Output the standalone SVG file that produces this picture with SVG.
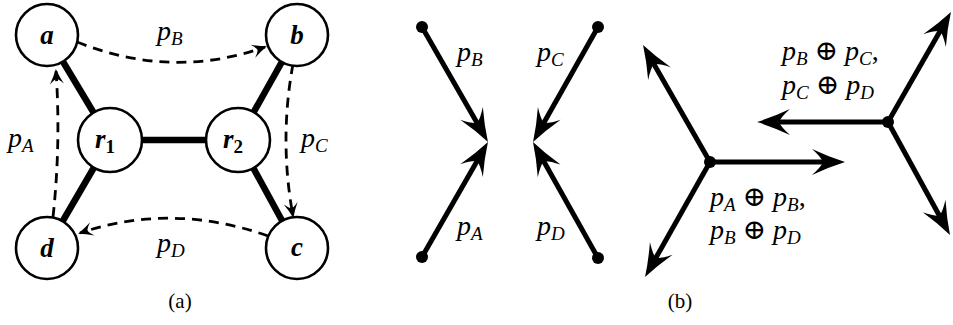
<svg xmlns="http://www.w3.org/2000/svg" width="953" height="325" viewBox="0 0 953 325">
<style>
.bg{fill:#fff}
.node{fill:#fff;stroke:#000;stroke-width:2.6}
.edge{stroke:#000;stroke-width:6.5;stroke-linecap:butt;fill:none}
.dash{stroke:#000;stroke-width:2.8;fill:none;stroke-dasharray:10 7}
.thick{stroke:#000;stroke-width:5;fill:none}
.dot{fill:#000}
.nl{font-family:"Liberation Serif","DejaVu Serif",serif;font-style:italic;font-weight:bold;font-size:27px;fill:#000}
.ml{font-family:"Liberation Serif","DejaVu Serif",serif;font-style:italic;font-size:28px;fill:#000}
.op{font-style:normal}
.cap{font-family:"Liberation Serif","DejaVu Serif",serif;font-size:21px;fill:#000}
</style>
<defs>
<marker id="big" markerUnits="userSpaceOnUse" viewBox="-20 -16 40 32" markerWidth="40" markerHeight="32" refX="0" refY="0" orient="auto" overflow="visible">
<path d="M16,0 Q0,-5 -17,-13 Q-8,-5 -6,0 Q-8,5 -17,13 Q0,5 16,0 Z" fill="#000"/>
</marker>
<marker id="small" markerUnits="userSpaceOnUse" viewBox="-16 -8 20 16" markerWidth="20" markerHeight="16" refX="0" refY="0" orient="auto" overflow="visible">
<path d="M2,0 Q-6,-3 -13,-7 Q-8,-2 -8,0 Q-8,2 -13,7 Q-6,3 2,0 Z" fill="#000"/>
</marker>
</defs>
<rect class="bg" x="0" y="0" width="953" height="325"/>

<g id="panel-a">
<g id="connectors-a">
<line class="edge" x1="47" y1="35" x2="110" y2="140"/>
<line class="edge" x1="110" y1="140" x2="47" y2="248"/>
<line class="edge" x1="110" y1="140" x2="238" y2="140"/>
<line class="edge" x1="238" y1="140" x2="297" y2="35"/>
<line class="edge" x1="238" y1="140" x2="297" y2="248"/>
<path class="dash" d="M77,42 Q172,80 265,47" marker-end="url(#small)"/>
<path class="dash" d="M293,64 Q279,140 293,216" marker-end="url(#small)"/>
<path class="dash" d="M268,236 Q172,202 80,233" marker-end="url(#small)"/>
<path class="dash" d="M53,217 Q61,143 56,71" marker-end="url(#small)"/>
</g>
<g id="node-a"><circle class="node" cx="47" cy="35" r="31"/><text class="nl" x="47" y="44" text-anchor="middle">a</text></g>
<g id="node-b"><circle class="node" cx="297" cy="35" r="31"/><text class="nl" x="297" y="44" text-anchor="middle">b</text></g>
<g id="node-c"><circle class="node" cx="297" cy="248" r="31"/><text class="nl" x="297" y="256" text-anchor="middle">c</text></g>
<g id="node-d"><circle class="node" cx="47" cy="248" r="31"/><text class="nl" x="47" y="257" text-anchor="middle">d</text></g>
<g id="node-r1"><circle class="node" cx="110" cy="140" r="32"/><text class="nl" x="95" y="148">r<tspan font-style="normal" font-size="19" dy="5">1</tspan></text></g>
<g id="node-r2"><circle class="node" cx="238" cy="140" r="32"/><text class="nl" x="223" y="148">r<tspan font-style="normal" font-size="19" dy="5">2</tspan></text></g>
<text class="ml" x="157" y="40">p<tspan font-size="19" dy="5">B</tspan></text>
<text class="ml" x="301" y="147">p<tspan font-size="19" dy="5">C</tspan></text>
<text class="ml" x="8" y="147">p<tspan font-size="19" dy="5">A</tspan></text>
<text class="ml" x="157" y="252">p<tspan font-size="19" dy="5">D</tspan></text>
<text class="cap" x="180" y="308" text-anchor="middle">(a)</text>
</g>

<g id="panel-b">
<g id="connectors-b">
<line class="thick" x1="422" y1="27" x2="480" y2="128.1" marker-end="url(#big)"/>
<line class="thick" x1="422" y1="257" x2="480" y2="155.9" marker-end="url(#big)"/>
<line class="thick" x1="598" y1="27" x2="540.9" y2="128.1" marker-end="url(#big)"/>
<line class="thick" x1="598" y1="258" x2="540.8" y2="156" marker-end="url(#big)"/>
<line class="thick" x1="710" y1="162" x2="651" y2="58.9" marker-end="url(#big)"/>
<line class="thick" x1="710" y1="162" x2="652.9" y2="263.1" marker-end="url(#big)"/>
<line class="thick" x1="710" y1="162" x2="829" y2="162" marker-end="url(#big)"/>
<line class="thick" x1="888" y1="122" x2="773" y2="122" marker-end="url(#big)"/>
<line class="thick" x1="888" y1="122" x2="943" y2="25.9" marker-end="url(#big)"/>
<line class="thick" x1="888" y1="122" x2="942.3" y2="221" marker-end="url(#big)"/>
</g>
<g id="dot-1"><circle class="dot" cx="422" cy="27" r="6"/></g>
<g id="dot-2"><circle class="dot" cx="422" cy="257" r="6"/></g>
<g id="dot-3"><circle class="dot" cx="598" cy="27" r="6"/></g>
<g id="dot-4"><circle class="dot" cx="598" cy="258" r="6"/></g>
<g id="junction-1"><circle class="dot" cx="710" cy="162" r="6"/></g>
<g id="junction-2"><circle class="dot" cx="888" cy="122" r="6"/></g>
<text class="ml" x="457" y="61">p<tspan font-size="19" dy="5">B</tspan></text>
<text class="ml" x="537" y="61">p<tspan font-size="19" dy="5">C</tspan></text>
<text class="ml" x="457" y="235">p<tspan font-size="19" dy="5">A</tspan></text>
<text class="ml" x="537" y="235">p<tspan font-size="19" dy="5">D</tspan></text>
<text class="ml" x="782" y="60">p<tspan font-size="19" dy="5">B</tspan><tspan class="op" dy="-5"> ⊕ </tspan>p<tspan font-size="19" dy="5">C</tspan><tspan class="op" dy="-5">,</tspan></text>
<text class="ml" x="782" y="94">p<tspan font-size="19" dy="5">C</tspan><tspan class="op" dy="-5"> ⊕ </tspan>p<tspan font-size="19" dy="5">D</tspan></text>
<text class="ml" x="710" y="206">p<tspan font-size="19" dy="5">A</tspan><tspan class="op" dy="-5"> ⊕ </tspan>p<tspan font-size="19" dy="5">B</tspan><tspan class="op" dy="-5">,</tspan></text>
<text class="ml" x="710" y="239">p<tspan font-size="19" dy="5">B</tspan><tspan class="op" dy="-5"> ⊕ </tspan>p<tspan font-size="19" dy="5">D</tspan></text>
<text class="cap" x="680" y="308" text-anchor="middle">(b)</text>
</g>
</svg>
